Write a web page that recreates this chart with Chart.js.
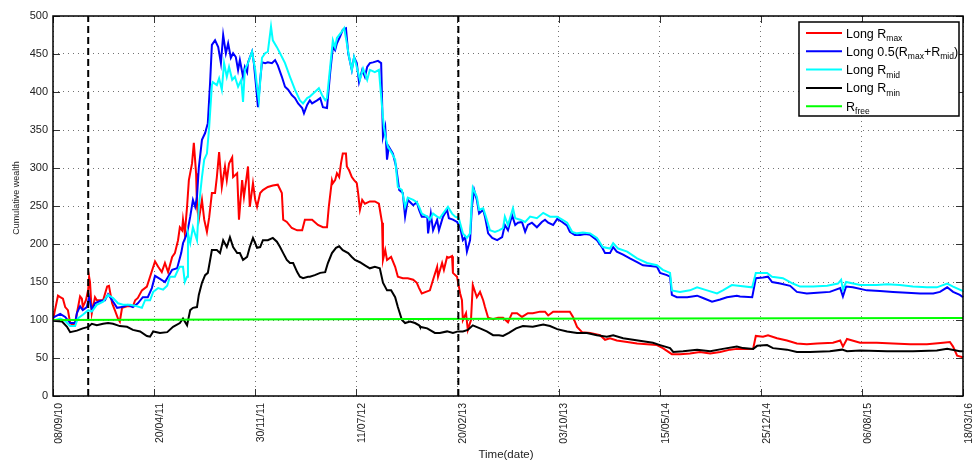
<!DOCTYPE html>
<html>
<head>
<meta charset="utf-8">
<script src="https://cdn.jsdelivr.net/npm/chart.js@4/dist/chart.umd.min.js"></script>
<style>
  html, body { margin: 0; padding: 0; background: #fff; }
  canvas { display: block; }
</style>
</head>
<body>
<canvas id="wealth" width="973" height="464"></canvas>
<script>
// Days elapsed since 08/09/10 and the date printed at each axis tick
const tickDays  = [0, 224, 448, 672, 896, 1120, 1344, 1568, 1792, 2016];
const tickDates = ['08/09/10', '20/04/11', '30/11/11', '11/07/12', '20/02/13',
                   '03/10/13', '15/05/14', '25/12/14', '06/08/15', '18/03/16'];

// Regime change markers (days since start)
const eventDays = [78, 898];

// Cumulative wealth samples: [day, wealth]
const longRmax = [[0,100],[4,112],[11,132],[16,130],[22,128],[27,117],[33,113],[38,96],[44,93],[49,96],[53,109],[60,131],[64,128],[66,117],[73,126],[78,140],[80,157],[82,150],[86,109],[93,130],[97,126],[104,126],[111,126],[120,144],[124,145],[131,122],[137,113],[144,102],[148,98],[153,116],[164,118],[177,118],[182,126],[188,129],[197,139],[208,144],[215,157],[226,177],[233,170],[241,163],[248,175],[255,163],[264,183],[270,188],[277,205],[281,222],[286,218],[288,232],[292,214],[297,249],[301,284],[308,306],[312,333],[317,293],[319,249],[323,232],[330,258],[335,232],[341,216],[346,235],[352,267],[359,267],[363,288],[368,321],[374,275],[381,302],[385,284],[390,306],[397,314],[399,288],[408,293],[412,232],[419,284],[423,262],[430,293],[432,302],[436,249],[443,280],[448,258],[452,249],[459,267],[465,271],[476,275],[487,277],[498,278],[507,267],[510,232],[518,229],[529,221],[541,218],[552,218],[558,232],[574,232],[587,225],[598,222],[607,222],[611,249],[618,284],[620,280],[625,284],[629,293],[634,288],[638,306],[642,319],[649,319],[651,302],[656,297],[662,288],[667,284],[673,280],[676,267],[680,245],[685,258],[691,253],[702,256],[713,256],[722,253],[729,228],[731,179],[736,192],[740,179],[749,183],[758,170],[764,157],[775,155],[786,155],[798,153],[806,149],[811,142],[817,135],[835,139],[842,153],[851,170],[853,157],[862,175],[866,166],[873,183],[877,182],[884,184],[886,162],[895,157],[902,135],[906,126],[908,100],[915,109],[919,87],[926,100],[930,146],[939,130],[946,137],[953,126],[957,117],[964,103],[975,101],[986,103],[997,103],[1008,97],[1017,109],[1028,109],[1039,104],[1052,109],[1063,109],[1079,111],[1090,111],[1097,106],[1108,111],[1128,111],[1145,111],[1152,104],[1161,91],[1172,84],[1190,83],[1212,80],[1223,74],[1234,76],[1249,73],[1272,71],[1294,69],[1316,68],[1338,67],[1351,63],[1371,55],[1389,55],[1411,56],[1433,58],[1456,56],[1478,58],[1500,61],[1515,62],[1551,62],[1557,79],[1573,78],[1584,80],[1604,76],[1626,73],[1648,69],[1670,68],[1693,69],[1728,70],[1744,73],[1750,65],[1759,75],[1788,70],[1825,70],[1861,69],[1899,68],[1936,68],[1972,70],[1987,71],[1994,65],[2003,53],[2016,51]];

const longHalfMaxMid = [[0,103],[16,108],[27,104],[38,96],[49,96],[53,109],[60,118],[66,113],[75,117],[80,130],[86,113],[93,122],[104,125],[115,126],[122,134],[131,126],[142,116],[153,117],[166,120],[177,117],[188,122],[199,130],[210,130],[219,142],[226,158],[237,154],[248,150],[255,157],[264,166],[275,168],[284,188],[288,201],[297,214],[304,236],[310,258],[315,249],[319,262],[323,300],[330,337],[337,346],[343,359],[348,412],[352,462],[359,468],[366,459],[372,438],[377,475],[383,451],[388,464],[394,445],[399,451],[405,446],[410,429],[414,442],[421,420],[425,433],[430,426],[432,439],[441,453],[445,438],[450,407],[454,380],[459,416],[463,439],[470,438],[476,439],[485,438],[492,442],[498,435],[507,420],[514,407],[521,403],[529,396],[536,392],[543,385],[552,379],[556,372],[563,383],[569,389],[574,385],[585,389],[592,392],[598,380],[607,379],[614,425],[620,459],[625,455],[629,464],[636,473],[642,482],[649,484],[654,451],[662,429],[667,446],[673,438],[678,413],[685,429],[691,420],[696,433],[702,438],[709,439],[720,441],[727,438],[731,341],[736,354],[740,311],[744,328],[753,319],[760,302],[767,271],[775,267],[780,236],[786,258],[798,251],[806,255],[811,245],[817,236],[829,236],[831,214],[837,240],[842,218],[851,232],[855,218],[864,236],[873,245],[877,234],[886,232],[895,229],[902,222],[908,205],[913,209],[917,190],[924,205],[928,249],[933,271],[939,258],[944,240],[953,245],[957,236],[964,214],[973,208],[984,205],[995,209],[1001,225],[1008,218],[1017,238],[1024,225],[1030,228],[1039,229],[1046,216],[1052,225],[1061,228],[1072,222],[1083,229],[1090,232],[1097,228],[1108,225],[1117,233],[1128,229],[1139,224],[1145,216],[1156,212],[1168,212],[1179,213],[1190,212],[1205,205],[1216,196],[1223,188],[1234,188],[1241,196],[1249,190],[1263,186],[1278,181],[1294,176],[1307,172],[1323,171],[1338,170],[1345,162],[1360,159],[1367,157],[1371,133],[1382,130],[1405,130],[1427,132],[1440,129],[1460,124],[1478,127],[1493,130],[1515,132],[1522,131],[1549,130],[1557,155],[1573,156],[1584,157],[1593,150],[1611,148],[1633,145],[1648,137],[1670,135],[1693,136],[1721,137],[1744,142],[1750,131],[1757,144],[1772,143],[1803,139],[1832,138],[1861,137],[1892,136],[1921,135],[1950,135],[1965,137],[1981,143],[1994,137],[2009,133],[2016,130]];

const longRmid = [[0,99],[16,102],[27,99],[38,92],[49,92],[55,102],[66,107],[78,113],[86,111],[97,120],[111,124],[122,133],[133,129],[144,122],[155,120],[171,120],[186,118],[197,116],[204,126],[215,126],[222,137],[233,142],[244,140],[253,145],[259,157],[270,157],[277,166],[281,170],[288,170],[292,150],[297,157],[299,214],[304,201],[310,222],[319,205],[323,249],[330,288],[335,311],[341,319],[346,354],[352,409],[354,413],[363,409],[368,418],[374,403],[379,438],[385,420],[390,433],[397,416],[403,420],[410,407],[417,416],[421,387],[425,429],[432,438],[441,453],[448,429],[452,407],[456,389],[463,445],[470,451],[476,453],[483,486],[487,468],[496,459],[503,451],[514,438],[525,420],[536,403],[547,389],[554,385],[563,392],[569,394],[580,400],[589,405],[596,396],[603,389],[607,392],[614,433],[620,468],[625,459],[629,471],[638,478],[645,484],[651,464],[656,446],[662,429],[667,446],[673,433],[680,416],[687,431],[696,416],[702,429],[713,426],[722,429],[729,380],[733,354],[738,337],[742,328],[751,319],[758,311],[764,275],[773,271],[780,249],[786,261],[798,258],[806,255],[811,249],[817,240],[829,236],[835,232],[842,240],[851,236],[857,234],[864,240],[875,249],[884,240],[891,236],[899,234],[908,214],[917,208],[924,214],[928,258],[930,274],[939,262],[944,245],[953,247],[959,236],[968,218],[979,216],[988,218],[997,221],[1001,236],[1008,225],[1019,247],[1024,234],[1035,232],[1046,229],[1057,236],[1072,234],[1086,241],[1101,236],[1117,236],[1128,232],[1139,228],[1150,216],[1161,214],[1174,215],[1190,214],[1205,208],[1218,196],[1234,194],[1241,201],[1252,194],[1272,190],[1294,181],[1316,175],[1338,172],[1351,166],[1367,162],[1371,139],[1389,137],[1411,139],[1427,143],[1449,139],[1471,135],[1484,139],[1504,146],[1518,145],[1549,143],[1557,162],[1582,162],[1593,157],[1617,155],[1639,148],[1655,144],[1684,144],[1715,145],[1739,148],[1746,153],[1750,140],[1757,150],[1788,146],[1825,146],[1848,147],[1876,146],[1905,144],[1936,143],[1958,143],[1981,148],[1994,144],[2016,138]];

const longRmin = [[0,99],[20,98],[31,91],[38,84],[53,86],[66,89],[78,91],[86,95],[97,93],[111,95],[122,96],[133,95],[148,92],[164,91],[177,87],[193,85],[208,79],[215,78],[222,85],[237,83],[253,84],[266,91],[281,96],[288,102],[297,93],[304,113],[310,116],[319,117],[323,133],[330,149],[337,159],[343,162],[352,192],[363,192],[370,188],[377,205],[385,196],[392,209],[399,196],[408,188],[414,188],[421,179],[430,183],[436,196],[443,208],[448,201],[452,195],[459,196],[465,205],[476,205],[487,208],[496,203],[503,196],[510,188],[518,179],[525,175],[532,175],[541,163],[547,157],[554,155],[565,157],[569,157],[580,159],[592,162],[603,163],[609,175],[618,188],[627,195],[634,197],[642,192],[654,188],[662,183],[669,179],[680,176],[691,172],[702,168],[713,170],[724,168],[731,149],[740,139],[749,139],[758,130],[764,117],[773,100],[780,96],[791,98],[802,96],[811,93],[813,91],[829,89],[846,83],[857,83],[873,85],[886,83],[897,85],[908,85],[919,87],[930,93],[946,89],[961,85],[975,80],[988,80],[997,79],[1010,83],[1026,89],[1041,92],[1063,91],[1086,94],[1101,92],[1117,88],[1139,85],[1161,83],[1183,83],[1205,80],[1227,78],[1241,80],[1263,76],[1285,74],[1307,72],[1329,70],[1345,67],[1367,63],[1374,58],[1396,59],[1427,61],[1456,59],[1484,62],[1515,65],[1529,63],[1551,62],[1560,66],[1582,67],[1595,63],[1626,61],[1648,58],[1677,58],[1721,59],[1748,61],[1759,59],[1788,60],[1848,59],[1905,59],[1958,60],[1981,62],[2009,59],[2016,59]];

const riskFree = [[0,100],[1008,101.5],[2016,102.5]];

// Legend entries: text runs, subscripts flagged
const legendItems = [
  { color: '#ff0000', runs: [['Long R'], ['max', 1]] },
  { color: '#0000ff', runs: [['Long 0.5(R'], ['max', 1], ['+R'], ['mid', 1], [')']] },
  { color: '#00ffff', runs: [['Long R'], ['mid', 1]] },
  { color: '#000000', runs: [['Long R'], ['min', 1]] },
  { color: '#00ff00', runs: [['R'], ['free', 1]] }
];

const FONT = "'Liberation Sans', Arial, Helvetica, sans-serif";
const toPoints = arr => arr.map(([x, y]) => ({ x, y }));

function series(data, color, order) {
  return { data: toPoints(data), borderColor: color, borderWidth: 2, pointRadius: 0,
           tension: 0, fill: false, order };
}

const datasets = [
  series(riskFree, '#00ff00', 1),
  series(longRmin, '#000000', 2),
  series(longRmid, '#00ffff', 3),
  series(longHalfMaxMid, '#0000ff', 4),
  series(longRmax, '#ff0000', 5),
  ...eventDays.map(d => ({
    data: [{ x: d, y: 0 }, { x: d, y: 500 }], borderColor: '#000', borderWidth: 2,
    borderDash: [7, 4], pointRadius: 0, order: 0
  }))
];

// Box, inward tick marks, axis titles and legend, drawn over the plot
const decorations = {
  id: 'decorations',
  afterDraw(chart) {
    const { ctx, chartArea: a, scales: { x, y } } = chart;
    ctx.save();

    ctx.strokeStyle = '#333';
    ctx.lineWidth = 1;
    ctx.beginPath();
    y.ticks.forEach(t => {
      const py = Math.round(y.getPixelForValue(t.value)) + 0.5;
      ctx.moveTo(a.left, py); ctx.lineTo(a.left + 7, py);
      ctx.moveTo(a.right, py); ctx.lineTo(a.right - 7, py);
    });
    x.ticks.forEach(t => {
      const px = Math.round(x.getPixelForValue(t.value)) + 0.5;
      ctx.moveTo(px, a.bottom); ctx.lineTo(px, a.bottom - 7);
      ctx.moveTo(px, a.top); ctx.lineTo(px, a.top + 7);
    });
    ctx.stroke();

    ctx.strokeStyle = '#000';
    ctx.lineWidth = 1.5;
    ctx.strokeRect(a.left, a.top, a.right - a.left, a.bottom - a.top);

    // Axis titles
    ctx.fillStyle = '#222';
    ctx.textAlign = 'center';
    ctx.textBaseline = 'middle';
    ctx.font = '11.5px ' + FONT;
    ctx.fillText('Time(date)', (a.left + a.right) / 2 - 2, 455);
    ctx.save();
    ctx.translate(17, 198);
    ctx.rotate(-Math.PI / 2);
    ctx.font = '9px ' + FONT;
    ctx.fillText('Cumulative wealth', 0, 0);
    ctx.restore();

    // Legend
    const bx = 799, by = 22, bw = 160, bh = 94;
    ctx.fillStyle = '#fff';
    ctx.fillRect(bx, by, bw, bh);
    ctx.strokeStyle = '#000';
    ctx.lineWidth = 1.5;
    ctx.strokeRect(bx, by, bw, bh);
    ctx.textAlign = 'left';
    ctx.textBaseline = 'alphabetic';
    legendItems.forEach((item, i) => {
      const ry = by + 11 + i * 18.3;
      ctx.strokeStyle = item.color;
      ctx.lineWidth = 2;
      ctx.beginPath();
      ctx.moveTo(bx + 7, ry); ctx.lineTo(bx + 43, ry);
      ctx.stroke();
      let tx = bx + 47;
      ctx.fillStyle = '#000';
      item.runs.forEach(([text, sub]) => {
        ctx.font = (sub ? '8.5px ' : '12.5px ') + FONT;
        ctx.fillText(text, tx, ry + (sub ? 8 : 4.5));
        tx += ctx.measureText(text).width;
      });
    });
    ctx.restore();
  }
};

new Chart(document.getElementById('wealth'), {
  type: 'line',
  data: { datasets },
  plugins: [decorations],
  options: {
    responsive: false,
    animation: false,
    devicePixelRatio: 1,
    layout: { padding: { top: 16, right: 0, left: 0, bottom: 0 } },
    plugins: { legend: { display: false }, tooltip: { enabled: false } },
    scales: {
      x: {
        type: 'linear',
        min: 0,
        max: 2016,
        afterBuildTicks: s => { s.ticks = tickDays.map(v => ({ value: v })); },
        afterFit: s => { s.height = 68; s.paddingRight = 10; s.paddingLeft = 0; },
        grid: { color: 'rgba(0,0,0,0.55)', lineWidth: 1, drawTicks: false },
        border: { display: false, dash: [1, 4] },
        ticks: {
          autoSkip: false,
          minRotation: 90,
          maxRotation: 90,
          padding: 7,
          labelOffset: 6,
          color: '#222',
          font: { family: FONT, size: 10.5 },
          callback: (v) => tickDates[tickDays.indexOf(v)]
        }
      },
      y: {
        min: 0,
        max: 500,
        afterFit: s => { s.width = 53; },
        grid: { color: 'rgba(0,0,0,0.55)', lineWidth: 1, drawTicks: false },
        border: { display: false, dash: [1, 4] },
        ticks: {
          stepSize: 50,
          padding: 5,
          color: '#222',
          font: { family: FONT, size: 11 }
        }
      }
    }
  }
});
</script>
</body>
</html>
